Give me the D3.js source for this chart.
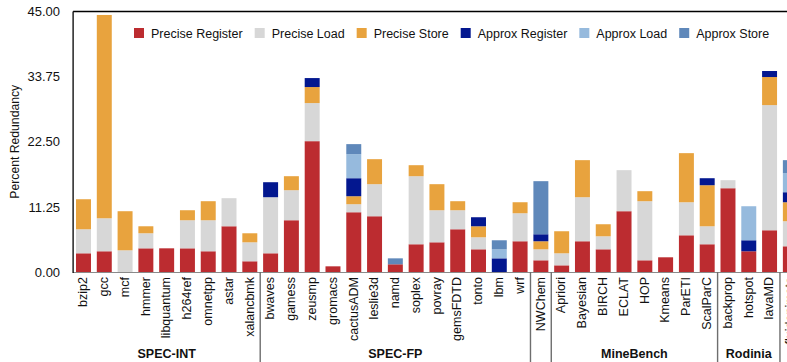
<!DOCTYPE html>
<html>
<head>
<meta charset="utf-8">
<script src="https://cdn.jsdelivr.net/npm/d3@7/dist/d3.min.js"></script>
<style>
  html, body { margin: 0; padding: 0; background: #fff; }
  svg { display: block; font-family: "Liberation Sans", Arial, Helvetica, sans-serif; }
</style>
</head>
<body>
<svg id="chart" width="787" height="362"></svg>
<script>
// Benchmarks, in plotting order
const categories = [
  "bzip2", "gcc", "mcf", "hmmer", "libquantum", "h264ref", "omnetpp", "astar", "xalancbmk",
  "bwaves", "gamess", "zeusmp", "gromacs", "cactusADM", "leslie3d", "namd", "soplex", "povray",
  "gemsFDTD", "tonto", "lbm", "wrf",
  "NWChem",
  "Apriori", "Bayesian", "BIRCH", "ECLAT", "HOP", "Kmeans", "ParETI", "ScalParC",
  "backprop", "hotspot", "lavaMD",
  "fluidanimate"
];

// Suites and how many benchmarks each holds
const groupNames = ["SPEC-INT", "SPEC-FP", "", "MineBench", "Rodinia", ""];
const groupSizes = [9, 13, 1, 8, 3, 1];

// Percent redundancy per source (segment heights)
const preciseRegister = [3.23, 3.58, 0, 4.09, 4.09, 4.09, 3.58, 7.90, 1.85,
  3.23, 8.94, 22.60, 0.98, 10.32, 9.63, 1.33, 4.79, 5.13, 7.38, 3.92, 0, 5.31,
  2.02,
  1.15, 5.31, 3.92, 10.50, 2.02, 2.54, 6.34, 4.79,
  14.47, 3.58, 7.21,
  4.44];
const preciseLoad = [4.15, 5.70, 3.75, 2.60, 0, 4.85, 5.36, 4.85, 3.28,
  9.69, 5.19, 6.58, 0, 1.39, 5.54, 0, 11.76, 5.54, 3.29, 2.08, 0, 4.84,
  1.90,
  2.08, 7.61, 2.25, 7.09, 10.21, 0, 5.71, 3.11,
  1.39, 0, 21.62,
  4.33];
const preciseStore = [5.19, 35.12, 6.75, 1.21, 0, 1.73, 3.29, 0, 1.56,
  0, 2.42, 2.77, 0, 1.38, 4.32, 0, 1.90, 4.50, 1.56, 1.90, 0, 1.90,
  1.39,
  3.81, 6.40, 2.08, 0, 1.73, 0, 8.48, 7.09,
  0, 0, 4.85,
  3.28];
const approxRegister = [0, 0, 0, 0, 0, 0, 0, 0, 0,
  2.59, 0, 1.55, 0, 3.11, 0, 0, 0, 0, 0, 1.56, 2.36, 0,
  1.21,
  0, 0, 0, 0, 0, 0, 0, 1.21,
  0, 1.90, 1.04,
  1.73];
const approxLoad = [0, 0, 0, 0, 0, 0, 0, 0, 0,
  0, 0, 0, 0, 4.16, 0, 0, 0, 0, 0, 0, 1.56, 0,
  0,
  0, 0, 0, 0, 0, 0, 0, 0,
  0, 5.88, 0,
  3.29];
const approxStore = [0, 0, 0, 0, 0, 0, 0, 0, 0,
  0, 0, 0, 0, 1.73, 0, 1.03, 0, 0, 0, 0, 1.56, 0,
  9.17,
  0, 0, 0, 0, 0, 0, 0, 0,
  0, 0, 0,
  2.25];

const seriesNames = ["Precise Register", "Precise Load", "Precise Store",
                     "Approx Register", "Approx Load", "Approx Store"];
const seriesValues = [preciseRegister, preciseLoad, preciseStore,
                      approxRegister, approxLoad, approxStore];
const seriesColors = ["#BC2C30", "#D7D7D7", "#E8A33E", "#03178F", "#96BADD", "#5F88BA"];

const yTicks = [0, 11.25, 22.5, 33.75, 45];

// ---- layout ----
const svg = d3.select("#chart");
const plotLeft = 73.1, plotTop = 11.5, plotBottom = 272;
const step = 20.79;

const x = d3.scaleBand()
  .domain(categories)
  .range([plotLeft, plotLeft + step * categories.length])
  .paddingInner(0.28)
  .paddingOuter(0.14);

const y = d3.scaleLinear().domain([0, 45]).range([plotBottom, plotTop]);

// rows for stacking
const rows = categories.map((c, i) => {
  const r = { name: c };
  seriesNames.forEach((s, k) => { r[s] = seriesValues[k][i]; });
  return r;
});
const stacked = d3.stack().keys(seriesNames)(rows);

// bars
svg.append("g").selectAll("g")
  .data(stacked)
  .join("g")
  .attr("fill", (d, i) => seriesColors[i])
  .selectAll("rect")
  .data(d => d.filter(p => p[1] - p[0] > 0))
  .join("rect")
  .attr("x", d => x(d.data.name))
  .attr("width", x.bandwidth())
  .attr("y", d => y(d[1]))
  .attr("height", d => y(d[0]) - y(d[1]));

// frame: top and left in black, baseline in grey
svg.append("line")
  .attr("x1", plotLeft).attr("x2", 800)
  .attr("y1", plotTop).attr("y2", plotTop)
  .attr("stroke", "#000").attr("stroke-width", 1.3);
svg.append("line")
  .attr("x1", plotLeft).attr("x2", 800)
  .attr("y1", plotBottom + 0.5).attr("y2", plotBottom + 0.5)
  .attr("stroke", "#8a8a8a").attr("stroke-width", 1.2);
svg.append("line")
  .attr("x1", plotLeft).attr("x2", plotLeft)
  .attr("y1", plotTop).attr("y2", plotBottom + 1)
  .attr("stroke", "#000").attr("stroke-width", 1.3);

// y axis labels
const yAxis = d3.axisLeft(y)
  .tickValues(yTicks)
  .tickFormat(d3.format(".2f"))
  .tickSize(0)
  .tickPadding(13);
const yg = svg.append("g")
  .attr("transform", `translate(${plotLeft},0)`)
  .call(yAxis);
yg.select(".domain").remove();
yg.selectAll("text")
  .attr("font-size", "13px")
  .attr("font-family", "'Liberation Sans', Arial, sans-serif")
  .attr("fill", "#111");

svg.append("text")
  .attr("transform", `translate(19,${(plotTop + plotBottom) / 2}) rotate(-90)`)
  .attr("text-anchor", "middle")
  .attr("font-size", "12.2px")
  .attr("fill", "#111")
  .text("Percent Redundancy");

// x axis labels, rotated
const xAxis = d3.axisBottom(x).tickSize(0).tickPadding(0);
const xg = svg.append("g")
  .attr("transform", `translate(0,${plotBottom})`)
  .call(xAxis);
xg.select(".domain").remove();
xg.selectAll("text")
  .attr("font-size", "12.5px")
  .attr("font-family", "'Liberation Sans', Arial, sans-serif")
  .attr("fill", "#111")
  .attr("text-anchor", "end")
  .attr("transform", "rotate(-90)")
  .attr("x", -5)
  .attr("y", 0)
  .attr("dy", "0.3em");

// suite separators and names
let idx = 0;
const bounds = [];
groupSizes.forEach((n, g) => {
  const start = x(categories[idx]) - x.step() * x.paddingInner() / 2;
  const end = x(categories[idx + n - 1]) + x.bandwidth() + x.step() * x.paddingInner() / 2;
  bounds.push({ name: groupNames[g], start: g === 0 ? plotLeft : start, end });
  idx += n;
});
svg.append("g").selectAll("line")
  .data(bounds.slice(1))
  .join("line")
  .attr("x1", d => d.start).attr("x2", d => d.start)
  .attr("y1", plotBottom).attr("y2", 362)
  .attr("stroke", "#6e6e6e").attr("stroke-width", 1.4);
svg.append("g").selectAll("text")
  .data(bounds.filter(d => d.name))
  .join("text")
  .attr("x", d => (d.start + d.end) / 2)
  .attr("y", 358)
  .attr("text-anchor", "middle")
  .attr("font-size", "12.5px")
  .attr("font-weight", "bold")
  .attr("fill", "#111")
  .text(d => d.name);

// legend
const legend = svg.append("g").attr("transform", "translate(134,28)");
let lx = 0;
seriesNames.forEach((s, i) => {
  const item = legend.append("g").attr("transform", `translate(${lx},0)`);
  item.append("rect").attr("width", 10).attr("height", 10).attr("fill", seriesColors[i]);
  const t = item.append("text")
    .attr("x", 17).attr("y", 9.5)
    .attr("font-size", "12.5px")
    .attr("fill", "#111")
    .text(s);
  lx += 17 + t.node().getComputedTextLength() + 12;
});
</script>
</body>
</html>
